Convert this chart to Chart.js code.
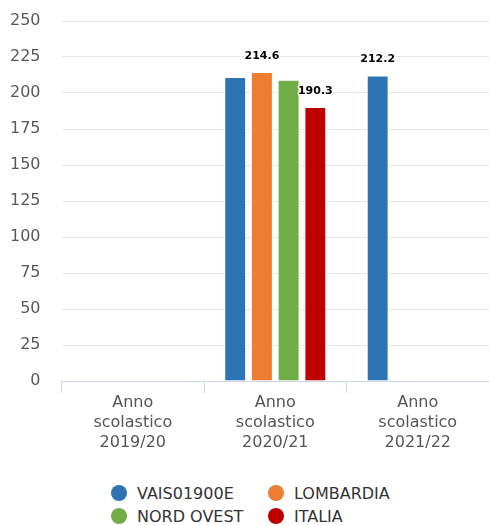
<!DOCTYPE html>
<html>
<head>
<meta charset="utf-8">
<script src="https://cdn.jsdelivr.net/npm/chart.js@4/dist/chart.umd.min.js"></script>
<style>
  html, body { margin: 0; padding: 0; background: #fff; }
  #wrap { position: relative; width: 489px; height: 525px; }
  #box { position: absolute; left: 0; top: 0; width: 489px; height: 470px; }
  #legend { position: absolute; left: 111px; top: 485px; display: grid;
            grid-template-columns: 157px 157px; row-gap: 7px;
            font-family: "DejaVu Sans", sans-serif; font-size: 16px; color: #333; }
  .item { display: flex; align-items: center; height: 16px; white-space: nowrap; }
  .dot { width: 16px; height: 16px; border-radius: 50%; margin-right: 10px; flex: none; }
</style>
</head>
<body>
<div id="wrap">
  <div id="box"><canvas id="c"></canvas></div>
  <div id="legend"></div>
</div>
<script>
const categories = [
  ["Anno", "scolastico", "2019/20"],
  ["Anno", "scolastico", "2020/21"],
  ["Anno", "scolastico", "2021/22"]
];
const seriesNames = ["VAIS01900E", "LOMBARDIA", "NORD OVEST", "ITALIA"];
const vais = [null, 211.1, 212.2];
const lombardia = [null, 214.6, null];
const nordOvest = [null, 209.2, null];
const italia = [null, 190.3, null];
const seriesColors = ["#2e74b5", "#ed7d31", "#70ad47", "#c00000"];
// which values carry a printed label: [seriesIndex, categoryIndex]
const shownLabels = [[1, 1], [3, 1], [0, 2]];
const yTicks = [0, 25, 50, 75, 100, 125, 150, 175, 200, 225, 250];

const seriesData = [vais, lombardia, nordOvest, italia];

const labelPlugin = {
  id: 'valueLabels',
  afterDatasetsDraw(chart) {
    const ctx = chart.ctx;
    ctx.save();
    ctx.font = 'bold 11px "DejaVu Sans", sans-serif';
    ctx.textAlign = 'center';
    ctx.textBaseline = 'middle';
    shownLabels.forEach(([s, c]) => {
      const el = chart.getDatasetMeta(s).data[c];
      const v = chart.data.datasets[s].data[c];
      if (!el || v == null) return;
      const y = el.y - 16;
      const txt = v.toFixed(1);
      ctx.lineWidth = 3;
      ctx.strokeStyle = '#fff';
      ctx.lineJoin = 'round';
      ctx.strokeText(txt, el.x, y);
      ctx.fillStyle = '#000';
      ctx.fillText(txt, el.x, y);
    });
    ctx.restore();
  }
};

const chart = new Chart(document.getElementById('c'), {
  type: 'bar',
  data: {
    labels: categories,
    datasets: seriesNames.map((n, i) => ({
      label: n,
      data: seriesData[i],
      backgroundColor: seriesColors[i],
      borderColor: '#ffffff',
      borderWidth: 1,
      categoryPercentage: 0.75,
      barPercentage: 0.82
    }))
  },
  options: {
    responsive: true,
    maintainAspectRatio: false,
    animation: false,
    layout: { padding: { top: 0, bottom: 17, left: -11, right: 0 } },
    plugins: {
      legend: { display: false },
      tooltip: { enabled: false }
    },
    scales: {
      x: {
        grid: { drawOnChartArea: false, drawTicks: true, tickLength: 12, color: '#ccd6eb' },
        border: { display: true, color: '#ccd6eb', width: 1 },
        ticks: {
          color: '#555555', padding: 0,
          font: { family: '"DejaVu Sans", sans-serif', size: 16, lineHeight: 1.25 },
          maxRotation: 0, autoSkip: false
        }
      },
      y: {
        min: 0, max: 250,
        afterBuildTicks(axis) { axis.ticks = yTicks.map(v => ({ value: v })); },
        afterFit(scale) { scale.paddingTop = 21; scale.paddingBottom = 9; },
        grid: { color: '#e6e6e6', drawTicks: false },
        border: { display: false },
        ticks: {
          color: '#5a5a5a', padding: 21,
          font: { family: '"DejaVu Sans", sans-serif', size: 16 }
        }
      }
    }
  },
  plugins: [labelPlugin]
});

const leg = document.getElementById('legend');
chart.data.datasets.forEach(ds => {
  const it = document.createElement('div');
  it.className = 'item';
  const d = document.createElement('span');
  d.className = 'dot';
  d.style.background = ds.backgroundColor;
  it.appendChild(d);
  it.appendChild(document.createTextNode(ds.label));
  leg.appendChild(it);
});
</script>
</body>
</html>
